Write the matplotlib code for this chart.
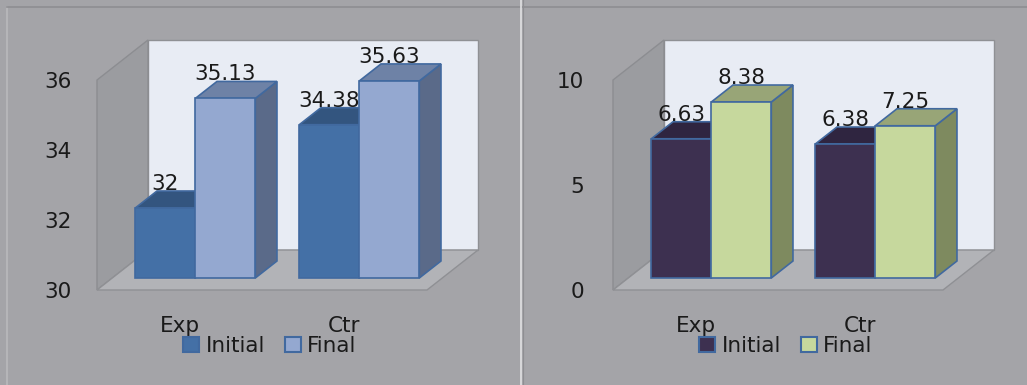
import matplotlib
matplotlib.use("Agg")
import matplotlib.pyplot as plt
from matplotlib.patches import Polygon, Rectangle, Patch
from matplotlib.lines import Line2D

# ---------------- data ----------------
categories = ["Exp", "Ctr"]
series_names = ["Initial", "Final"]
left_initial = [32.00, 34.38]
left_final = [35.13, 35.63]
left_labels_initial = ["32", "34.38"]
left_labels_final = ["35.13", "35.63"]
left_ticks = [30, 32, 34, 36]
right_initial = [6.63, 6.38]
right_final = [8.38, 7.25]
right_labels_initial = ["6.63", "6.38"]
right_labels_final = ["8.38", "7.25"]
right_ticks = [0, 5, 10]

W, H = 1027, 385
BG = "#a4a4a8"
EDGE = "#41699f"
FS = 15.5

plt.rcParams['font.family'] = ['DejaVu Sans']
fig = plt.figure(figsize=(W / 100, H / 100), dpi=100)
fig.patch.set_facecolor(BG)

# panel borders / divider
fig.add_artist(Line2D([7 / W, 7 / W], [0, 1 - 7 / H], color="#b9b9bc", lw=1.2))
fig.add_artist(Line2D([7 / W, 1], [1 - 7 / H, 1 - 7 / H], color="#8e8e92", lw=1.2))
fig.add_artist(Line2D([521 / W, 521 / W], [0, 1], color="#e2e2e4", lw=1.2))
fig.add_artist(Line2D([523 / W, 523 / W], [0, 1], color="#8e8e92", lw=0.8))

UX = 164.0          # px per category unit
DEPTH_X, DEPTH_Y = 51.0, 40.0   # floor depth in px
F0, F1 = 0.30, 0.725            # bar depth fractions
BW = 60.0 / UX                  # bar width in category units


def panel(left_px, center_px, ymin, ymax_front, uy, ticks, initial, final,
          lab_i, lab_f, col_i, col_f, tick_pad, legend_center):
    ax_left, ax_right, ax_top, ax_bot = left_px, left_px + 380, 40, 290
    ax = fig.add_axes([ax_left / W, 1 - ax_bot / H,
                       (ax_right - ax_left) / W, (ax_bot - ax_top) / H])
    ax.set_facecolor("none")
    x0 = (left_px - center_px) / UX
    x1 = (left_px + 330 - center_px) / UX
    ax.set_xlim(x0, (ax_right - center_px) / UX)
    ax.set_ylim(ymin, ymin + 250 / uy)
    for s in ax.spines.values():
        s.set_visible(False)
    dxd, dyd = DEPTH_X / UX, DEPTH_Y / uy

    # back wall
    ax.add_patch(Rectangle((x0 + dxd, ymin + dyd), x1 - x0, ymax_front - ymin,
                           facecolor="#e8ecf4", edgecolor="#8f9094", lw=1.0,
                           zorder=1, clip_on=False))
    # left wall
    ax.add_patch(Polygon([(x0, ymin), (x0, ymax_front),
                          (x0 + dxd, ymax_front + dyd), (x0 + dxd, ymin + dyd)],
                         closed=True, facecolor="#9b9ca0", edgecolor="#8c8d91",
                         lw=1.0, zorder=2, clip_on=False))
    # floor
    ax.add_patch(Polygon([(x0, ymin), (x1, ymin), (x1 + dxd, ymin + dyd),
                          (x0 + dxd, ymin + dyd)],
                         closed=True, facecolor="#b2b3b7", edgecolor="#8f9094",
                         lw=1.0, zorder=3, clip_on=False))

    fx, fy = F0 * dxd, F0 * dyd
    ddx, ddy = (F1 - F0) * dxd, (F1 - F0) * dyd
    z = 4
    for gi in range(len(initial)):
        for si, (vals, labs, cols) in enumerate(((initial, lab_i, col_i),
                                                  (final, lab_f, col_f))):
            v = vals[gi]
            xl = gi - BW + si * BW + fx
            xr = xl + BW
            bot = ymin + fy
            top = v + fy
            # side face
            ax.add_patch(Polygon([(xr, bot), (xr, top), (xr + ddx, top + ddy),
                                  (xr + ddx, bot + ddy)], closed=True,
                                 facecolor=cols[2], edgecolor=EDGE, lw=1.2,
                                 zorder=z, clip_on=False))
            # top face
            ax.add_patch(Polygon([(xl, top), (xr, top), (xr + ddx, top + ddy),
                                  (xl + ddx, top + ddy)], closed=True,
                                 facecolor=cols[1], edgecolor=EDGE, lw=1.2,
                                 zorder=z, clip_on=False))
            # front face
            ax.bar(xl, v - ymin, width=BW, bottom=bot, align="edge",
                   color=cols[0], edgecolor=EDGE, lw=1.2, zorder=z + 0.5,
                   clip_on=False)
            ax.text(xl + BW / 2, top + ddy + 1.0 / uy, labs[gi],
                    ha="center", va="baseline", fontsize=FS, color="#1a1a1a",
                    zorder=20)
            z += 1

    ax.set_yticks(ticks)
    ax.set_yticklabels([str(t) for t in ticks])
    ax.tick_params(axis="y", length=0, pad=tick_pad, labelsize=FS,
                   labelcolor="#1a1a1a")
    ax.set_xticks(range(len(categories)))
    ax.set_xticklabels(categories)
    ax.tick_params(axis="x", length=0, pad=19, labelsize=FS,
                   labelcolor="#1a1a1a")

    handles = [Patch(facecolor=col_i[0], edgecolor=EDGE, lw=1.5),
               Patch(facecolor=col_f[0], edgecolor=EDGE, lw=1.5)]
    fig.legend(handles, series_names, loc="center",
               bbox_to_anchor=(legend_center[0] / W, 1 - legend_center[1] / H),
               ncol=2, frameon=False, fontsize=FS, handlelength=0.75,
               handleheight=0.75, handletextpad=0.3, columnspacing=0.9,
               borderpad=0, labelcolor="#1a1a1a")
    return ax


panel(97, 180, 30, 36, 35.0, left_ticks, left_initial, left_final,
      left_labels_initial, left_labels_final,
      ("#4470a6", "#33557f", "#33557f"), ("#94a8d0", "#6e82a6", "#5a6a89"),
      18.0, (270, 346))
panel(613, 696, 0, 10, 21.0, right_ticks, right_initial, right_final,
      right_labels_initial, right_labels_final,
      ("#3d3050", "#2f2540", "#2f2540"), ("#c6d89d", "#98a577", "#7e8a5f"),
      21.0, (786, 346))

fig.savefig("out.png", dpi=100, facecolor=BG)
